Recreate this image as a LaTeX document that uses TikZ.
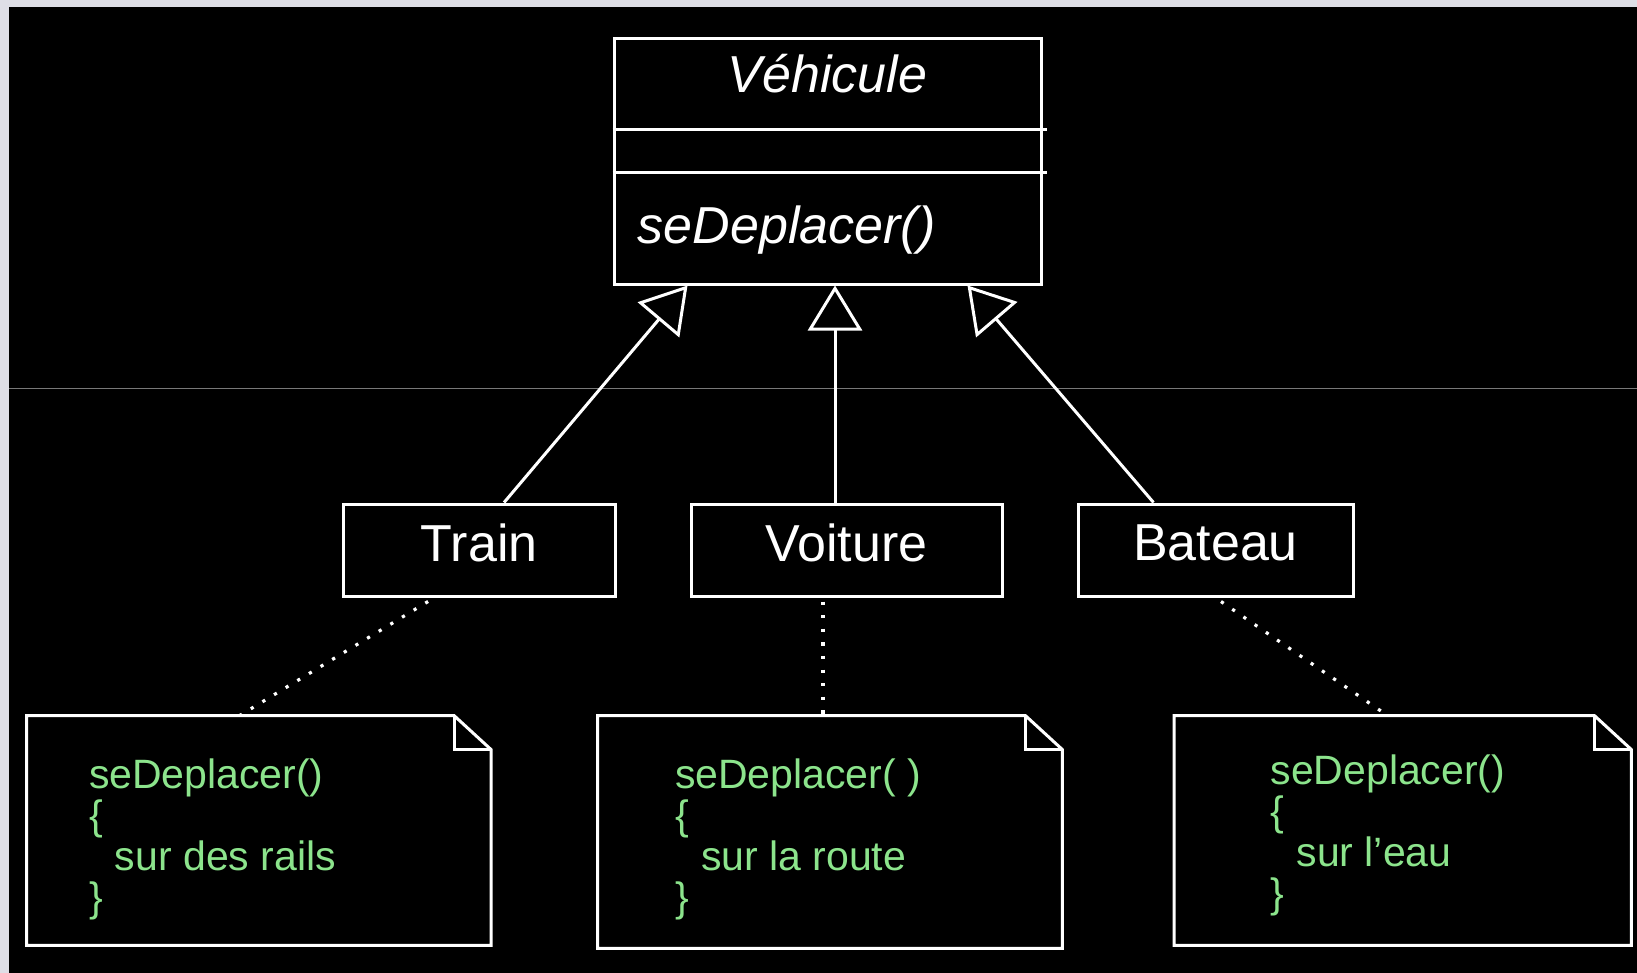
\documentclass[tikz,border=0pt]{standalone}
\usepackage{fontspec}
\setmainfont{Liberation Sans}
\usetikzlibrary{arrows.meta,calc}
\definecolor{framegray}{RGB}{222,222,230}
\definecolor{codegreen}{RGB}{140,228,140}
\definecolor{rulegray}{RGB}{120,120,120}
\begin{document}
\begin{tikzpicture}[x=0.5pt,y=-0.5pt,
  cls/.style={draw=white, line width=1.5pt, rectangle, inner sep=0pt, text=white, font=\fontsize{26}{30}\selectfont},
  notebox/.style={rectangle, inner sep=0pt},
  noteline/.style={draw=white, line width=1.5pt, line join=miter},
  notetxt/.style={text=codegreen, align=left, inner sep=0pt, font=\fontsize{20.5}{20.5}\selectfont},
  gen/.style={draw=white, line width=1.5pt, -{Triangle[open, length=22.5pt, width=27pt]}},
  dep/.style={draw=white, line width=1.6pt, dash pattern=on 1.6pt off 5.2pt},
  vlbl/.style={text=white, inner sep=0pt, font=\fontsize{26}{30}\selectfont\itshape},
  divider/.style={draw=white, line width=1.5pt}
]
\useasboundingbox (0,0) rectangle (1637,973);
\fill[framegray] (0,0) rectangle (1637,973);
\fill[black] (9,7) rectangle (1637,973);
\draw[rulegray, line width=0.5pt] (9,388) -- (1637,388);

% abstract class
\node[cls, minimum width=213.5pt, minimum height=122.7pt] (veh) at (827.5,161.3) {};
\node[vlbl, anchor=base] (vt) at ($(veh.north)+(0,55.4)$) {Véhicule};
\draw[divider] ($(veh.north west)+(0,92)$) -- ($(veh.north east)+(4,92)$);
\draw[divider] ($(veh.north west)+(0,135.7)$) -- ($(veh.north east)+(4,135.7)$);
\node[vlbl, anchor=base west] (op) at ($(veh.north west)+(25,206.4)$) {seDeplacer()};

% subclasses
\node[cls, minimum width=135.75pt, minimum height=46pt, text depth=7pt] (train) at (479.25,550) {Train};
\node[cls, minimum width=155.5pt, minimum height=46pt, text depth=7pt] (voiture) at (846.5,550) {Voiture};
\node[cls, minimum width=137.5pt, minimum height=46pt, text depth=7pt] (bateau) at (1215.5,550) {Bateau};

% notes
\node[notebox, minimum width=231.85pt, minimum height=114.5pt] (n1) at (258.85,830.5) {};
\node[notebox, minimum width=232pt, minimum height=116pt] (n2) at (830,832) {};
\node[notebox, minimum width=228.25pt, minimum height=114.5pt] (n3) at (1402.75,830.5) {};
\foreach \n in {n1,n2,n3}{
  \draw[noteline] (\n.north west) -- ($(\n.north east)+(-37,0)$) -- ($(\n.north east)+(0,34)$) -- (\n.south east) -- (\n.south west) -- cycle;
  \draw[noteline] ($(\n.north east)+(-37,0)$) -- ($(\n.north east)+(-37,34)$) -- ($(\n.north east)+(0,34)$);
}
\node[notetxt, anchor=north west] (t1) at ($(n1.north west)+(62,43)$) {seDeplacer()\\\{\\\hspace*{13pt}sur des rails\\\}};
\node[notetxt, anchor=north west] (t2) at ($(n2.north west)+(77,43)$) {seDeplacer( )\\\{\\\hspace*{13pt}sur la route\\\}};
\node[notetxt, anchor=north west] (t3) at ($(n3.north west)+(96,39)$) {seDeplacer()\\\{\\\hspace*{13pt}sur l'eau\\\}};

% generalizations
\draw[gen] ([xshift=12.4pt]train.north) -- ($(veh.south west)+(75,0)$);
\draw[gen] ([xshift=-5.75pt]voiture.north) -- ([xshift=-5.75pt]voiture.north |- veh.south);
\draw[gen] ([xshift=-31pt]bateau.north) -- ($(veh.south east)+(-75,0)$);

% note links
\draw[dep] ([xshift=-25.6pt,yshift=-2pt]train.south) -- ($(n1.north west)+(213,0)$);
\draw[dep] ([xshift=-11.75pt,yshift=-2pt]voiture.south) -- ([xshift=-11.75pt]voiture.south |- n2.north);
\draw[dep] ([xshift=2.75pt,yshift=-2pt]bateau.south) -- ($(n3.north west)+(213.5,0)$);
\end{tikzpicture}
\end{document}
